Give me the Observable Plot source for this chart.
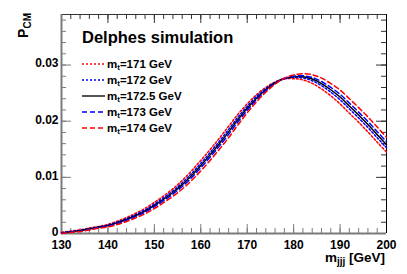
<!DOCTYPE html>
<html><head><meta charset="utf-8">
<script src="https://cdn.jsdelivr.net/npm/d3@7"></script>
<script src="https://cdn.jsdelivr.net/npm/@observablehq/plot@0.6"></script>
<style>
body{margin:0;background:#fff}
#c{position:relative;width:407px;height:274px}
#c svg{position:absolute;left:0;top:0}
#c text{font-family:"Liberation Sans",Arial,Helvetica,sans-serif}
</style>
</head><body><div id="c"></div>
<script>
const mjjj = [130,132,134,136,138,140,142,144,146,148,150,152,154,156,158,160,162,164,166,168,170,172,174,176,178,180,182,184,186,188,190,192,194,196,198,200];
const p171 = [0.00022,0.00041,0.00064,0.00097,0.00126,0.00162,0.00220,0.00285,0.00360,0.00447,0.00555,0.00669,0.00796,0.00946,0.01115,0.01301,0.01494,0.01697,0.01910,0.02124,0.02309,0.02471,0.02601,0.02699,0.02751,0.02757,0.02736,0.02673,0.02574,0.02451,0.02308,0.02141,0.01981,0.01807,0.01627,0.01450];
const p172 = [0.00015,0.00035,0.00056,0.00087,0.00117,0.00149,0.00203,0.00265,0.00337,0.00420,0.00524,0.00636,0.00759,0.00903,0.01067,0.01250,0.01441,0.01643,0.01854,0.02072,0.02266,0.02439,0.02581,0.02691,0.02760,0.02780,0.02771,0.02721,0.02633,0.02517,0.02382,0.02219,0.02058,0.01887,0.01706,0.01527];
const p1725 = [0.00010,0.00030,0.00050,0.00080,0.00110,0.00140,0.00190,0.00250,0.00320,0.00400,0.00500,0.00610,0.00730,0.00870,0.01030,0.01210,0.01400,0.01600,0.01810,0.02030,0.02230,0.02410,0.02560,0.02680,0.02760,0.02790,0.02790,0.02750,0.02670,0.02560,0.02430,0.02270,0.02110,0.01940,0.01760,0.01580];
const p173 = [0.00005,0.00025,0.00044,0.00073,0.00103,0.00131,0.00177,0.00235,0.00303,0.00379,0.00476,0.00584,0.00701,0.00837,0.00992,0.01170,0.01358,0.01556,0.01765,0.01987,0.02193,0.02381,0.02539,0.02668,0.02760,0.02800,0.02809,0.02779,0.02707,0.02603,0.02479,0.02322,0.02162,0.01994,0.01814,0.01633];
const p174 = [0.00002,0.00018,0.00036,0.00063,0.00093,0.00118,0.00159,0.00214,0.00279,0.00351,0.00444,0.00549,0.00662,0.00792,0.00942,0.01115,0.01302,0.01499,0.01706,0.01933,0.02148,0.02346,0.02516,0.02659,0.02768,0.02823,0.02844,0.02828,0.02768,0.02671,0.02555,0.02401,0.02242,0.02076,0.01896,0.01713];

const seriesNames = ["171","172","172.5","173","174"];
const seriesValues = [p171,p172,p1725,p173,p174];
const seriesColors = ["#ff0000","#0000ff","#000000","#0000ff","#ff0000"];
const seriesDash = ["2,2","2,2",null,"5,3","5,3"];

const xMajor = [130,140,150,160,170,180,190,200];
const xTickLabels = ["130","140","150","160","170","180","190","200"];
const xMinor = d3.range(130,200.01,2);
const yMajor = [0,0.01,0.02,0.03];
const yTickLabels = ["0","0.01","0.02","0.03"];
const yMinor = d3.range(0,0.0385,0.002).map(v=>+v.toFixed(3));
const yTop = 0.039;

const W=407,H=274,mL=61,mR=21,mT=14,mB=41;
const pw=W-mL-mR, ph=H-mT-mB;
const font = '"Liberation Sans",Arial,Helvetica,sans-serif';

const table = seriesNames.flatMap((s,i)=>mjjj.map((m,j)=>({series:s,m,v:seriesValues[i][j]})));

const lineMarks = seriesNames.map((s,i)=>Plot.line(table.filter(d=>d.series===s),{
  x:"m", y:"v", stroke:seriesColors[i], strokeWidth:1.5,
  strokeDasharray:seriesDash[i]||undefined, curve:"catmull-rom"
}));

const dark="#333", grey="#7a7a7a";
const chart = Plot.plot({
  width:W,height:H,marginLeft:mL,marginRight:mR,marginTop:mT,marginBottom:mB,
  style:{fontFamily:font,background:"white",overflow:"visible"},
  x:{domain:[130,200]}, y:{domain:[0,yTop]},
  marks:[
    Plot.tickX(xMinor,{x:d=>d,insetTop:ph-5,stroke:grey}),
    Plot.tickX(xMajor,{x:d=>d,insetTop:ph-9,stroke:grey}),
    Plot.tickX(xMinor,{x:d=>d,insetBottom:ph-5,stroke:dark}),
    Plot.tickX(xMajor,{x:d=>d,insetBottom:ph-9,stroke:dark}),
    Plot.tickY(yMinor,{y:d=>d,insetRight:pw-5,stroke:grey}),
    Plot.tickY(yMajor,{y:d=>d,insetRight:pw-10,stroke:grey}),
    Plot.tickY(yMinor,{y:d=>d,insetLeft:pw-5,stroke:dark}),
    Plot.tickY(yMajor,{y:d=>d,insetLeft:pw-10,stroke:dark}),
    Plot.ruleY([yTop],{stroke:dark,strokeWidth:1}),
    Plot.ruleX([200],{stroke:"#000",strokeWidth:1}),
    Plot.ruleX([130],{stroke:grey,strokeWidth:2}),
    Plot.ruleY([0],{stroke:grey,strokeWidth:2}),
    ...lineMarks,
    Plot.axisX(xMajor,{anchor:"bottom",tickSize:0,tickPadding:7,fontSize:12,fontWeight:"bold",fill:"#000",label:null,
      tickFormat:d=>xTickLabels[xMajor.indexOf(d)]}),
    Plot.axisY(yMajor,{anchor:"left",tickSize:0,tickPadding:3,dy:-1.5,fontSize:12,fontWeight:"bold",fill:"#000",label:null,
      tickFormat:d=>yTickLabels[yMajor.indexOf(d)]})
  ]
});
const c=document.getElementById("c");
c.appendChild(chart);

const ns="http://www.w3.org/2000/svg";
const ov=d3.select(c).append("svg").attr("width",W).attr("height",H).attr("xmlns",ns).style("pointer-events","none");
ov.append("text").attr("x",82).attr("y",42.5).attr("font-size",16.5).attr("font-weight","bold").attr("fill","#000").text("Delphes simulation");

const xt=ov.append("text").attr("x",385).attr("y",262).attr("text-anchor","end").attr("font-size",13.5).attr("font-weight","bold");
xt.append("tspan").text("m");
xt.append("tspan").attr("font-size",10).attr("dy",3).text("jjj");
xt.append("tspan").attr("dy",-3).text(" [GeV]");

const yt=ov.append("text").attr("transform","translate(28,13) rotate(-90)").attr("text-anchor","end").attr("font-size",14).attr("font-weight","bold");
yt.append("tspan").text("P");
yt.append("tspan").attr("font-size",10).attr("dy",3).text("CM");

const lg=ov.append("g");
seriesNames.forEach((s,i)=>{
  const cy=64+i*16;
  lg.append("line").attr("x1",82).attr("x2",105).attr("y1",cy).attr("y2",cy)
    .attr("stroke",i===2?"#555":seriesColors[i]).attr("stroke-width",i===2?2:1.3)
    .attr("stroke-dasharray",seriesDash[i]||null);
  const t=lg.append("text").attr("x",107).attr("y",cy+3.5).attr("font-size",11.5).attr("font-weight","bold");
  t.append("tspan").text("m");
  t.append("tspan").attr("font-size",8).attr("dy",2).text("t");
  t.append("tspan").attr("dy",-2).text("="+s+" GeV");
});
</script>
</body></html>
